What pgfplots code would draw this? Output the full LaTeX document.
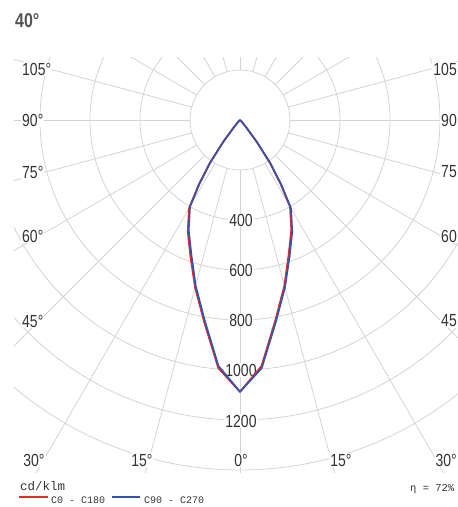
\documentclass[border=0pt]{standalone}
\usepackage{pgfplots}
\pgfplotsset{compat=1.18}
\usepackage{pgfplotstable}
\usepackage{fontspec}
\setmainfont{Liberation Sans}[FakeStretch=0.8]
\newfontfamily\monof{Liberation Mono}
\definecolor{cred}{HTML}{E42A2E}
\definecolor{cblue}{HTML}{3A53A4}
\definecolor{gridc}{HTML}{D4D4D4}
\definecolor{txt}{HTML}{333333}
\definecolor{ttl}{HTML}{555555}

% C0 (a>0) - C180 (a<0), cd/klm
\pgfplotstableread{
a r
-180 0
-90 0
-60 0
-50 3
-45 10
-40 42
-37.5 113
-35 214
-32.5 308
-30 408
-25 494
-20 580
-15 694
-10 822
-5 996
0 1087
5 988
10 814
15 686
20 570
25 486
30 400
32.5 300
35 206
37.5 107
40 38
45 8
50 2
60 0
90 0
180 0
}\redtab

% C90 (a>0) - C270 (a<0), cd/klm
\pgfplotstableread{
a r
-180 0
-90 0
-60 0
-50 2
-45 8
-40 38
-37.5 107
-35 206
-32.5 300
-30 400
-25 486
-20 570
-15 686
-10 814
-5 988
0 1087
5 996
10 822
15 694
20 580
25 494
30 408
32.5 308
35 214
37.5 113
40 42
45 10
50 3
60 0
90 0
180 0
}\bluetab

\begin{document}
\begin{tikzpicture}[
  lab/.style={fill=white, inner sep=1pt, text=txt, font=\fontsize{17.5}{18}\selectfont},
  rlab/.style={fill=white, inner sep=1pt, text=txt, font=\fontsize{17.5}{18}\selectfont}]
% grid
\begin{scope}
  \clip (-226pt,63pt) rectangle (226pt,-352pt);
  \foreach \r in {50,100,150,200,250,300,350}
    \draw[gridc, line width=0.8pt] (0,0) circle (\r pt);
  \foreach \t in {0,15,...,180} {
    \draw[gridc, line width=0.8pt] (-90+\t:50pt) -- (-90+\t:800pt);
    \draw[gridc, line width=0.8pt] (-90-\t:50pt) -- (-90-\t:800pt);
  }
\end{scope}
% angle labels
\node[lab, anchor=west] at (-219pt,51pt) {105°};
\node[lab, anchor=west] at (-219pt,0pt) {90°};
\node[lab, anchor=west] at (-219pt,-52pt) {75°};
\node[lab, anchor=west] at (-219pt,-116pt) {60°};
\node[lab, anchor=west] at (-219pt,-201pt) {45°};
\node[lab, anchor=east] at (218pt,51pt) {105};
\node[lab, anchor=east] at (218pt,0pt) {90};
\node[lab, anchor=east] at (218pt,-52pt) {75};
\node[lab, anchor=east] at (218pt,-116pt) {60};
\node[lab, anchor=east] at (218pt,-201pt) {45};
\node[lab] at (-206pt,-340pt) {30°};
\node[lab] at (-98pt,-340pt) {15°};
\node[lab] at (1pt,-340pt) {0°};
\node[lab] at (101pt,-340pt) {15°};
\node[lab, anchor=east] at (218pt,-340pt) {30°};
% radial labels
\node[rlab] at (1pt,-100pt) {400};
\node[rlab] at (1pt,-150pt) {600};
\node[rlab] at (1pt,-200pt) {800};
\node[rlab] at (1pt,-250pt) {1000};
\node[rlab] at (1pt,-301pt) {1200};
% curves
\begin{axis}[x=0.25pt, y=0.25pt, xmin=-904, xmax=904, ymin=-1408, ymax=252,
  hide axis, anchor=south west, at={(-226pt,-352pt)}]
\addplot[cred, line width=1.8pt, line join=round] table[x expr={\thisrow{r}*sin(\thisrow{a})}, y expr={-\thisrow{r}*cos(\thisrow{a})}] {\redtab};
\addplot[cblue, line width=1.8pt, line join=round] table[x expr={\thisrow{r}*sin(\thisrow{a})}, y expr={-\thisrow{r}*cos(\thisrow{a})}] {\bluetab};
\end{axis}
% title
\node[anchor=west, inner sep=0pt, text=ttl, font=\fontsize{20}{20}\selectfont\bfseries] at (-225pt,99pt) {40°};
% legend
\node[anchor=base west, inner sep=0pt, text=txt, font=\monof\fontsize{12.5}{13}\selectfont] at (-220pt,-370pt) {cd/klm};
\draw[cred, line width=1.6pt] (-221pt,-377pt) -- (-192pt,-377pt);
\node[anchor=base west, inner sep=0pt, text=txt, font=\monof\fontsize{10}{10}\selectfont] at (-189pt,-383pt) {C0 - C180};
\draw[cblue, line width=1.6pt] (-128pt,-377pt) -- (-100pt,-377pt);
\node[anchor=base west, inner sep=0pt, text=txt, font=\monof\fontsize{10}{10}\selectfont] at (-96pt,-383pt) {C90 - C270};
\node[anchor=base west, inner sep=0pt, text=txt, font=\monof\fontsize{10.5}{11}\selectfont] at (170pt,-371pt) {η = 72\%};
\pgfresetboundingbox
\path[use as bounding box] (-240pt,120pt) rectangle (218pt,-387pt);
\end{tikzpicture}
\end{document}
